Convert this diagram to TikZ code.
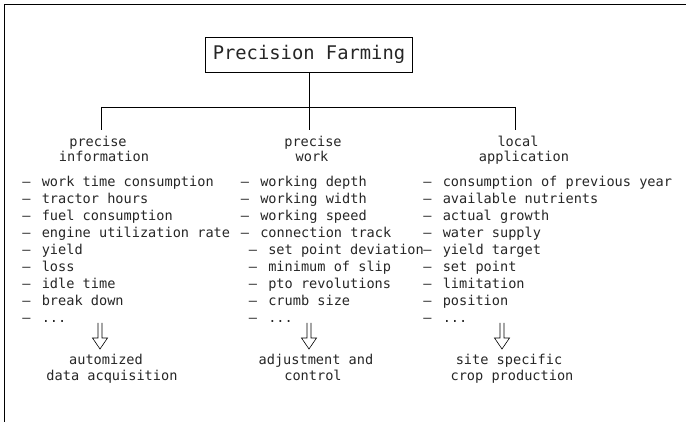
\documentclass[tikz,border=0pt]{standalone}
\usepackage{fontspec}
\newfontfamily\cadfont{DejaVu Sans Mono}
\newcommand{\cadell}{.{}.{}.}
\newcommand{\cadit}[1]{\makebox[19.5pt][l]{–}#1}
\begin{document}
\begin{tikzpicture}[x=1pt,y=-1pt,line width=0.6pt,
  lst/.style={font=\fontsize{13.6}{16}\selectfont\cadfont,inner sep=0pt,anchor=mid west,text=black!85},
  hd/.style={font=\fontsize{13.6}{16}\selectfont\cadfont,inner sep=0pt,anchor=base,text=black!85},
  ttl/.style={draw,font=\fontsize{18.8}{22}\selectfont\cadfont,minimum width=207pt,minimum height=35pt,inner sep=0pt,text=black!85},
  hollow/.style={line width=0.6pt,line join=miter}]
\useasboundingbox (0,0) rectangle (686,422);
% frame
\draw (4,422) -- (4,4) -- (686,4);
% title
\node[ttl] (title) at (309,54.5) {Precision Farming};
\coordinate (j) at (309,107);
\coordinate (b1) at (101,107);
\coordinate (b2) at (309,107);
\coordinate (b3) at (515,107);
\coordinate (e1) at (101,130);
\coordinate (e2) at (309,130);
\coordinate (e3) at (515,130);
\draw (title.south) -- (j);
\draw (b1) -- (b3);
\draw (b1) -- (e1);
\draw (b2) -- (e2);
\draw (b3) -- (e3);
% headings
\node[hd] (h1a) at (98,147) {precise};
\node[hd] (h1b) at (104,162) {information};
\node[hd] (h2a) at (313,147) {precise};
\node[hd] (h2b) at (312,162) {work};
\node[hd] (h3a) at (518,147) {local};
\node[hd] (h3b) at (524,162) {application};
% lists
\foreach \t [count=\i from 0] in {work time consumption,tractor hours,fuel consumption,engine utilization rate,yield,loss,idle time,break down,\cadell}
  \node[lst] (l1-\i) at (22,184+17*\i) {\cadit{\t}};
\foreach \t [count=\i from 0] in {working depth,working width,working speed,connection track}
  \node[lst] (l2-\i) at (240.5,184+17*\i) {\cadit{\t}};
\foreach \t [count=\i from 4] in {set point deviation,minimum of slip,pto revolutions,crumb size,\cadell}
  \node[lst] (l2-\i) at (248.5,184+17*\i) {\cadit{\t}};
\foreach \t [count=\i from 0] in {consumption of previous year,available nutrients,actual growth,water supply,yield target,set point,limitation,position,\cadell}
  \node[lst] (l3-\i) at (423,184+17*\i) {\cadit{\t}};
% hollow arrows
\foreach \n/\cx in {1/100,2/309,3/502}{
  \draw[hollow] (\cx-2,323) -- (\cx-2,338) -- (\cx-7.5,338) -- (\cx,349) -- (\cx+7.5,338) -- (\cx+2,338) -- (\cx+2,323);
}
% results
\node[hd] (r1a) at (106,364) {automized};
\node[hd] (r1b) at (112,380) {data acquisition};
\node[hd] (r2a) at (316,364) {adjustment and};
\node[hd] (r2b) at (313,380) {control};
\node[hd] (r3a) at (509,364) {site specific};
\node[hd] (r3b) at (512,380) {crop production};
\end{tikzpicture}
\end{document}
